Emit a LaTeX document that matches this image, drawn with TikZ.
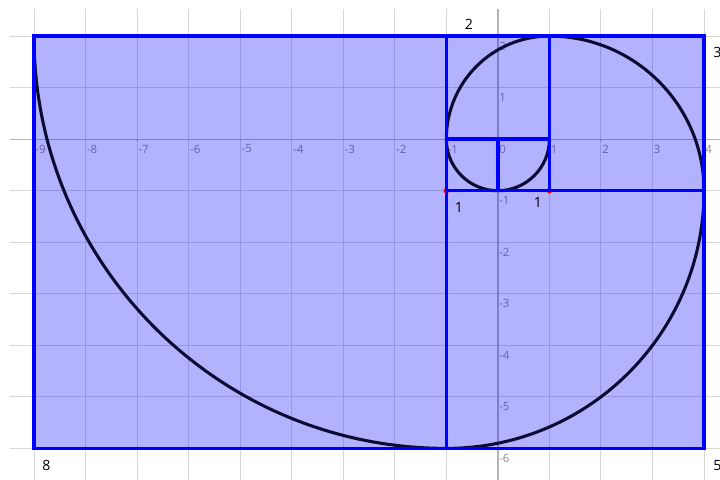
\documentclass[tikz,border=0pt]{standalone}
\usepackage{fontspec}
\setmainfont{Open Sans}
\definecolor{gridgrey}{RGB}{215,215,215}
\definecolor{axisgrey}{RGB}{180,180,180}
\definecolor{labgrey}{RGB}{140,140,140}
\definecolor{spiralcol}{RGB}{12,12,50}
\begin{document}
\begin{tikzpicture}[x=1cm,y=1cm,
  gridline/.style={draw=gridgrey, line width=0.55pt},
  axisline/.style={draw=axisgrey, line width=0.7pt},
  ticklab/.style={text=labgrey, font=\fontsize{6.3}{7}\selectfont, inner sep=0.6pt, anchor=west},
  side/.style={draw=blue, line width=1.9pt, line cap=rect},
  spiral/.style={draw=spiralcol, line width=1.7pt},
  numlab/.style={text=black, font=\fontsize{7.8}{9}\selectfont, inner sep=0pt},
  pointdot/.style={fill=red}
]
\useasboundingbox (-9.66,-6.61) rectangle (4.31,2.70);
% grid
\foreach \x in {-9,...,4} \draw[gridline] (\x,2.525) -- (\x,-6.61);
\foreach \y in {-6,...,2} \draw[gridline] (-9.47,\y) -- (4.31,\y);
% axes
\draw[axisline] (-9.47,0) -- (4.31,0);
\draw[axisline] (0,2.525) -- (0,-6.61);
\foreach \x in {-9,...,4} \draw[axisline] (\x,0) -- (\x,-0.04);
\foreach \y in {-6,...,2} \draw[axisline] (0,\y) -- (0.04,\y);
% tick labels
\foreach \x in {-9,...,-1,1,2,3,4} \node[ticklab] (xl\x) at (\x,-0.19) {\x};
\node[ticklab] (origin) at (0,-0.19) {0};
\foreach \y in {-6,...,-1,1,2} \node[ticklab] (yl\y) at (0,\y-0.19) {\y};
% filled region
\fill[blue, opacity=0.3] (-9,-6) rectangle (4,2);
% points
\fill[pointdot] (-1,-1) circle (0.055);
\fill[pointdot] (1,-1) circle (0.055);
% spiral
\draw[spiral] (1,0) arc[start angle=0, end angle=-180, radius=1]
  arc[start angle=180, end angle=90, radius=2]
  arc[start angle=90, end angle=0, radius=3]
  arc[start angle=0, end angle=-90, radius=5]
  arc[start angle=-90, end angle=-180, radius=8];
% squares
\coordinate (A) at (-9,-6);
\coordinate (B) at (4,2);
\draw[side] (A) rectangle (B);
\draw[side] (-1,-6) -- (-1,2);
\draw[side] (-1,-1) -- (4,-1);
\draw[side] (1,-1) -- (1,2);
\draw[side] (-1,0) -- (1,0);
\draw[side] (0,-1) -- (0,0);
% side labels
\node[numlab] (l2) at (-0.56,2.225) {2};
\node[numlab, anchor=west] (l3) at (4.175,1.69) {3};
\node[numlab] (l1a) at (-0.755,-1.325) {1};
\node[numlab] (l1b) at (0.778,-1.228) {1};
\node[numlab] (l8) at (-8.758,-6.327) {8};
\node[numlab, anchor=west] (l5) at (4.175,-6.33) {5};
\end{tikzpicture}
\end{document}
